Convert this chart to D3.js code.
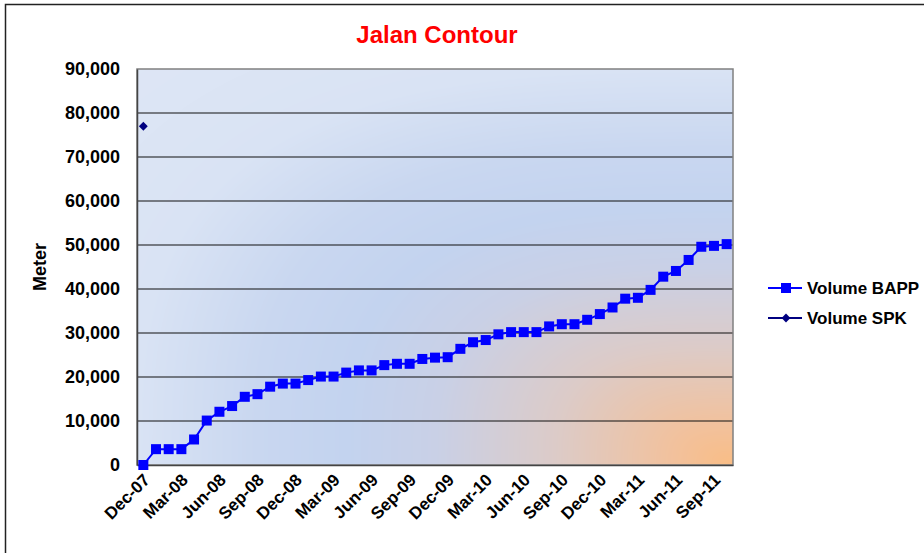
<!DOCTYPE html>
<html>
<head>
<meta charset="utf-8">
<script src="https://cdn.jsdelivr.net/npm/d3@7"></script>
<style>
  body { margin: 0; background: #fff; }
  svg { display: block; font-family: Arial, "Liberation Sans", sans-serif; font-weight: bold; }
</style>
</head>
<body>
<script>
const w = 924;
const h = 553;
const margin = { left: 137, top: 69, right: 191, bottom: 88 }; // plot area 137..733, 69..465

// categories, one per month
const months = [
  "Dec-07", "Jan-08", "Feb-08", "Mar-08", "Apr-08", "May-08", "Jun-08", "Jul-08", "Aug-08", "Sep-08", "Oct-08", "Nov-08",
  "Dec-08", "Jan-09", "Feb-09", "Mar-09", "Apr-09", "May-09", "Jun-09", "Jul-09", "Aug-09", "Sep-09", "Oct-09", "Nov-09",
  "Dec-09", "Jan-10", "Feb-10", "Mar-10", "Apr-10", "May-10", "Jun-10", "Jul-10", "Aug-10", "Sep-10", "Oct-10", "Nov-10",
  "Dec-10", "Jan-11", "Feb-11", "Mar-11", "Apr-11", "May-11", "Jun-11", "Jul-11", "Aug-11", "Sep-11", "Oct-11"
];
const xTickLabels = ["Dec-07", "Mar-08", "Jun-08", "Sep-08", "Dec-08", "Mar-09", "Jun-09", "Sep-09",
  "Dec-09", "Mar-10", "Jun-10", "Sep-10", "Dec-10", "Mar-11", "Jun-11", "Sep-11"];

// cumulative volume (meter)
const volumeBAPP = [
  0, 3600, 3600, 3600, 5800, 10100, 12100, 13400, 15500, 16100, 17800, 18500,
  18500, 19300, 20100, 20100, 21000, 21500, 21500, 22700, 23000, 23000, 24100, 24400,
  24500, 26400, 27900, 28400, 29700, 30200, 30200, 30200, 31500, 32000, 32000, 33000,
  34300, 35800, 37800, 38000, 39800, 42800, 44100, 46600, 49600, 49800, 50200
];
const volumeSPK = [
  { month: "Dec-07", value: 77000 }
];
const yTicks = [0, 10000, 20000, 30000, 40000, 50000, 60000, 70000, 80000, 90000];

const seriesNames = ["Volume BAPP", "Volume SPK"];

const pw = w - margin.left - margin.right;
const ph = h - margin.top - margin.bottom;

const svg = d3.select("body").append("svg")
  .attr("width", w)
  .attr("height", h);

// outer chart border
svg.append("rect")
  .attr("x", 5.5).attr("y", 4.5)
  .attr("width", w + 10).attr("height", h + 10)
  .attr("fill", "#fff")
  .attr("stroke", "#222")
  .attr("stroke-width", 1.5);

// plot background: "from corner" gradient, painted on a canvas and used as an image
function cornerGradient(width, height) {
  const canvas = document.createElement("canvas");
  canvas.width = width;
  canvas.height = height;
  const ctx = canvas.getContext("2d");
  const ramp = d3.scaleLinear()
    .domain([0, 0.1, 0.3, 0.5, 0.65, 0.8, 1.0, 1.3])
    .range(["#f9bd85", "#f2c19c", "#dccbc8", "#c9d0e6", "#c3d3ef", "#c9d7f0", "#d9e3f4", "#dee6f5"])
    .clamp(true);
  const img = ctx.createImageData(width, height);
  const p = 3;
  for (let j = 0; j < height; j++) {
    for (let i = 0; i < width; i++) {
      const dx = (width - i) / width;
      const dy = (height - j) / height;
      const d = Math.pow(Math.pow(dx, p) + Math.pow(dy, p), 1 / p);
      const c = d3.rgb(ramp(d));
      const k = (j * width + i) * 4;
      img.data[k] = c.r; img.data[k + 1] = c.g; img.data[k + 2] = c.b; img.data[k + 3] = 255;
    }
  }
  ctx.putImageData(img, 0, 0);
  return canvas.toDataURL();
}

const g = svg.append("g").attr("transform", `translate(${margin.left},${margin.top})`);

g.append("image")
  .attr("width", pw).attr("height", ph)
  .attr("preserveAspectRatio", "none")
  .attr("href", cornerGradient(pw, ph));

const x = d3.scalePoint().domain(months).range([0, pw]).padding(0.5);
const y = d3.scaleLinear().domain([0, 90000]).range([ph, 0]);

// gridlines
g.append("g")
  .selectAll("line")
  .data(yTicks.filter(t => t > 0 && t < 90000))
  .enter().append("line")
  .attr("x1", 0).attr("x2", pw)
  .attr("y1", d => y(d)).attr("y2", d => y(d))
  .attr("stroke", "#111").attr("stroke-width", 1.2);

// plot border
g.append("rect")
  .attr("width", pw).attr("height", ph)
  .attr("fill", "none")
  .attr("stroke", "#808080").attr("stroke-width", 1.5);

// y axis
const yAxis = d3.axisLeft(y).tickValues(yTicks).tickSize(0).tickPadding(17)
  .tickFormat(d3.format(","));
g.append("g")
  .call(yAxis)
  .call(s => s.select(".domain").attr("stroke", "#444").attr("stroke-width", 1.5))
  .call(s => s.selectAll("text").attr("font-size", 18).attr("font-weight", "bold")
    .attr("fill", "#000").attr("font-family", "Arial, 'Liberation Sans', sans-serif"));

// x axis
const xAxis = d3.axisBottom(x).tickValues(xTickLabels).tickSize(0).tickPadding(0);
g.append("g")
  .attr("transform", `translate(0,${ph})`)
  .call(xAxis)
  .call(s => s.select(".domain").attr("stroke", "#444").attr("stroke-width", 1.5))
  .call(s => s.selectAll("text")
    .attr("font-size", 17).attr("font-weight", "bold").attr("fill", "#000")
    .attr("font-family", "Arial, 'Liberation Sans', sans-serif")
    .attr("text-anchor", "end")
    .attr("dy", null)
    .attr("transform", "translate(7,16) rotate(-45)"));

// y axis title
svg.append("text")
  .attr("transform", `translate(46,${margin.top + ph / 2}) rotate(-90)`)
  .attr("text-anchor", "middle")
  .attr("font-size", 18)
  .text("Meter");

// title
svg.append("text")
  .attr("x", 437).attr("y", 43)
  .attr("text-anchor", "middle")
  .attr("font-size", 24)
  .attr("fill", "#ff0000")
  .text("Jalan Contour");

// BAPP line + square markers
const line = d3.line().x((d, i) => x(months[i])).y(d => y(d));
g.append("path")
  .datum(volumeBAPP)
  .attr("d", line)
  .attr("fill", "none")
  .attr("stroke", "#0000ff")
  .attr("stroke-width", 2);

const sq = 10;
g.append("g")
  .selectAll("rect")
  .data(volumeBAPP)
  .enter().append("rect")
  .attr("x", (d, i) => x(months[i]) - sq / 2)
  .attr("y", d => y(d) - sq / 2)
  .attr("width", sq).attr("height", sq)
  .attr("fill", "#0000ff");

// SPK diamond markers
const diamond = d3.symbol().type(d3.symbolDiamond2).size(50);
g.append("g")
  .selectAll("path")
  .data(volumeSPK)
  .enter().append("path")
  .attr("d", diamond)
  .attr("transform", d => `translate(${x(d.month)},${y(d.value)})`)
  .attr("fill", "#000080");

// legend
const legend = svg.append("g").attr("transform", "translate(768,288)");
const items = legend.selectAll("g")
  .data(seriesNames)
  .enter().append("g")
  .attr("transform", (d, i) => `translate(0,${i * 30})`);

items.append("line")
  .attr("x1", 0).attr("x2", 34)
  .attr("stroke", (d, i) => i === 0 ? "#0000ff" : "#000080")
  .attr("stroke-width", 2);

items.each(function(d, i) {
  const it = d3.select(this);
  if (i === 0) {
    it.append("rect").attr("x", 13).attr("y", -5).attr("width", 10).attr("height", 10).attr("fill", "#0000ff");
  } else {
    it.append("path").attr("d", diamond).attr("transform", "translate(18,0)").attr("fill", "#000080");
  }
});

items.append("text")
  .attr("x", 39).attr("y", 6)
  .attr("font-size", 17)
  .text(d => d);
</script>
</body>
</html>
